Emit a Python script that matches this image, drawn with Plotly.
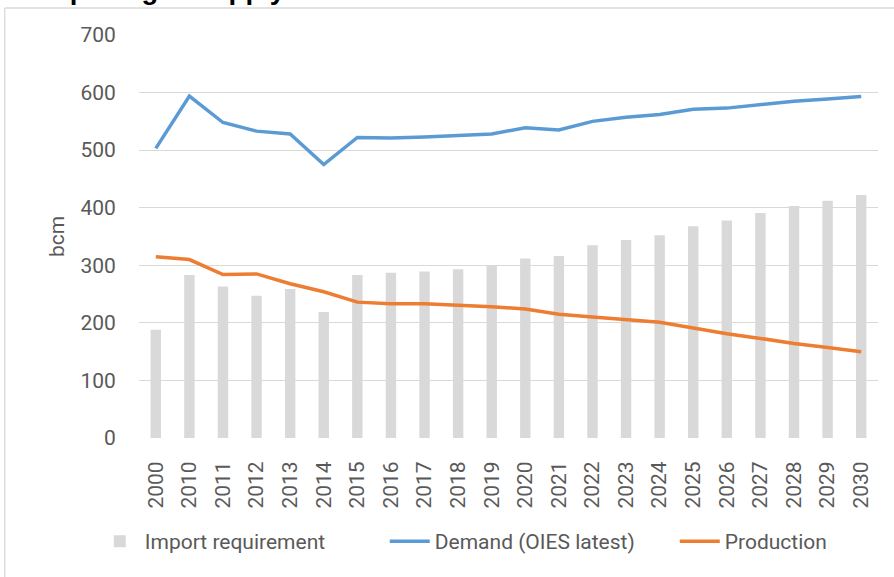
import plotly.graph_objects as go

years = ["2000", "2010", "2011", "2012", "2013", "2014", "2015", "2016", "2017", "2018",
         "2019", "2020", "2021", "2022", "2023", "2024", "2025", "2026", "2027", "2028",
         "2029", "2030"]
import_requirement = [188, 283, 263, 247, 259, 219, 283, 287, 289, 293,
                      299, 312, 316, 335, 344, 352, 368, 378, 391, 403,
                      412, 422]
demand = [503, 594, 548, 533, 528, 475, 522, 521, 523, 525,
          528, 539, 535, 550, 557, 562, 571, 573, 579, 585,
          589, 593]
production = [315, 310, 284, 285, 268, 254, 236, 233, 233, 231,
              228, 224, 215, 210, 206, 201, 191, 181, 173, 164,
              157, 150]
y_ticks = [0, 100, 200, 300, 400, 500, 600, 700]

FONT = "Roboto"
GREY_TXT = "#595959"
FS = 21

fig = go.Figure()
fig.add_trace(go.Bar(x=years, y=import_requirement, name="Import requirement",
                     marker=dict(color="#D9D9D9", line=dict(width=0))))
fig.add_trace(go.Scatter(x=years, y=demand, name="Demand (OIES latest)", mode="lines",
                         line=dict(color="#5B9BD5", width=3.5)))
fig.add_trace(go.Scatter(x=years, y=production, name="Production", mode="lines",
                         line=dict(color="#ED7D31", width=3.5)))

L, R, T, B = 139.2, 16.2, 35, 138.7
W, H = 894, 577
pw, ph = W - L - R, H - T - B

def px_to_paper_x(px):
    return (px - L) / pw

def px_to_paper_y(py):
    return (H - B - py) / ph

fig.update_layout(
    width=W, height=H,
    margin=dict(l=L, r=R, t=T, b=B, pad=0, autoexpand=False),
    paper_bgcolor="white", plot_bgcolor="white",
    bargap=0.69,
    font=dict(family=FONT, size=FS, color=GREY_TXT),
    showlegend=True,
    legend=dict(orientation="h", xref="paper", yref="paper",
                x=px_to_paper_x(95), y=px_to_paper_y(542), xanchor="left", yanchor="middle",
                font=dict(family=FONT, size=FS, color=GREY_TXT),
                itemwidth=40, entrywidth=235, traceorder="normal",
                bgcolor="rgba(0,0,0,0)"),
    xaxis=dict(type="category", tickangle=-90, showgrid=False, showline=False,
               zeroline=False, ticks="outside", ticklen=14, tickcolor="rgba(0,0,0,0)",
               automargin=False,
               tickfont=dict(family=FONT, size=FS, color=GREY_TXT)),
    yaxis=dict(range=[0, 700], tickvals=y_ticks, showgrid=True, gridcolor="#D9D9D9",
               gridwidth=1.3, zeroline=False, showline=False, ticks="outside",
               ticklen=18, tickcolor="rgba(0,0,0,0)", automargin=False,
               tickfont=dict(family=FONT, size=FS, color=GREY_TXT),
               title=dict(text="bcm", standoff=10,
                          font=dict(family=FONT, size=FS, color=GREY_TXT))),
    shapes=[
        dict(type="line", xref="paper", yref="paper",
             x0=px_to_paper_x(5), x1=px_to_paper_x(5),
             y0=px_to_paper_y(8), y1=px_to_paper_y(590),
             line=dict(color="#D9D9D9", width=1.3), layer="below"),
        dict(type="line", xref="paper", yref="paper",
             x0=px_to_paper_x(5), x1=px_to_paper_x(900),
             y0=px_to_paper_y(8), y1=px_to_paper_y(8),
             line=dict(color="#D9D9D9", width=1.3), layer="below"),
    ],
    annotations=[
        dict(text="<b>European gas supply</b>", xref="paper", yref="paper",
             x=px_to_paper_x(5), y=px_to_paper_y(7), xanchor="left", yanchor="bottom",
             showarrow=False, font=dict(family="Liberation Sans", size=27.5, color="black")),
    ],
)

fig.write_html("out.html", config={"displayModeBar": False},
               post_script="document.body.style.margin='0';")
